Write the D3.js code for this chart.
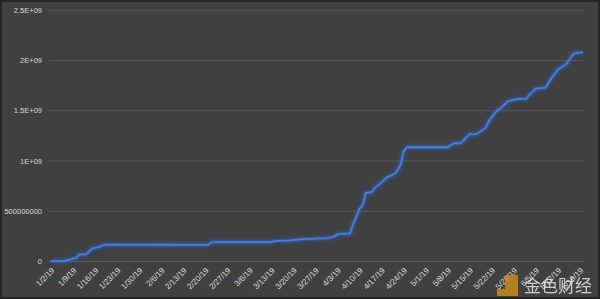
<!DOCTYPE html>
<html lang="en">
<head>
  <meta charset="UTF-8">
  <title>Chart</title>
  <style>
    body { margin: 0; background: #404040; }
    text { font-family: "Liberation Sans", Arial, sans-serif; }
  </style>
</head>
<body>
  <svg id="svg" width="600" height="299"></svg>

  <script src="https://d3js.org/d3.v7.min.js"></script>
  <script>
    // readings (date, cumulative value)
    const dates = ["1/2/19", "1/6/19", "1/10/19", "1/11/19", "1/13/19", "1/15/19", "1/17/19", "1/19/19",
      "2/21/19", "2/22/19", "3/13/19", "3/14/19", "3/19/19", "3/22/19", "3/27/19", "3/31/19",
      "4/2/19", "4/3/19", "4/5/19", "4/7/19", "4/8/19", "4/9/19", "4/10/19", "4/11/19", "4/12/19",
      "4/14/19", "4/15/19", "4/16/19", "4/18/19", "4/19/19", "4/21/19", "4/22/19", "4/23/19",
      "4/24/19", "4/25/19", "5/8/19", "5/10/19", "5/12/19", "5/13/19", "5/14/19", "5/15/19",
      "5/17/19", "5/20/19", "5/21/19", "5/23/19", "5/24/19", "5/25/19", "5/27/19", "5/30/19",
      "6/2/19", "6/3/19", "6/5/19", "6/8/19", "6/10/19", "6/12/19", "6/14/19", "6/15/19",
      "6/17/19", "6/20/19"]
    const values = [3e6, 3e6, 37e6, 70e6, 70e6, 127e6, 143e6, 167e6,
      165e6, 193e6, 193e6, 203e6, 210e6, 220e6, 227e6, 233e6,
      250e6, 270e6, 277e6, 277e6, 377e6, 443e6, 527e6, 560e6, 683e6,
      693e6, 737e6, 760e6, 817e6, 843e6, 870e6, 903e6, 960e6,
      1093e6, 1137e6, 1137e6, 1177e6, 1177e6, 1203e6, 1237e6, 1267e6,
      1267e6, 1327e6, 1393e6, 1477e6, 1510e6, 1527e6, 1593e6, 1617e6,
      1620e6, 1660e6, 1720e6, 1727e6, 1827e6, 1910e6, 1950e6, 1977e6,
      2070e6, 2083e6]

    const yTicks = [0, 5e8, 1e9, 1.5e9, 2e9, 2.5e9]
    const yTickLabels = ["0", "500000000", "1E+09", "1.5E+09", "2E+09", "2.5E+09"]

    const parse = d3.timeParse("%-m/%-d/%y")
    const fmt = d3.timeFormat("%-m/%-d/%y")
    const data = dates.map((d, i) => ({ date: parse(d), value: values[i] }))

    const svg = d3.select("#svg")

    svg.append("rect")
      .attr("x", 1).attr("y", 1)
      .attr("width", 598).attr("height", 297)
      .attr("fill", "#404040")
      .attr("stroke", "#262626")
      .attr("stroke-width", 2)

    const xScale = d3.scaleTime()
      .domain([parse("1/2/19"), parse("6/20/19")])
      .range([51, 583])

    const yScale = d3.scaleLinear()
      .domain([0, 2.5e9])
      .range([261.5, 10.3])

    // gridlines
    svg.append("g")
      .selectAll("line")
      .data(yTicks)
      .enter()
      .append("line")
      .attr("x1", 49)
      .attr("x2", 584)
      .attr("y1", d => yScale(d))
      .attr("y2", d => yScale(d))
      .attr("stroke", "#5a5a5a")
      .attr("stroke-width", 1)

    // y labels
    svg.append("g")
      .selectAll("text")
      .data(yTicks)
      .enter()
      .append("text")
      .text((d, i) => yTickLabels[i])
      .attr("x", 42)
      .attr("y", d => yScale(d))
      .attr("dy", "0.35em")
      .attr("text-anchor", "end")
      .attr("fill", "#d9d9d9")
      .style("font-size", "7.5px")

    // x labels, one per week
    const xTicks = d3.timeDay.range(parse("1/2/19"), parse("6/20/19"), 7)
    svg.append("g")
      .selectAll("text")
      .data(xTicks)
      .enter()
      .append("text")
      .text(d => fmt(d))
      .attr("transform", d => `translate(${xScale(d) + 2},${269}) rotate(-45)`)
      .attr("dy", "0.35em")
      .attr("text-anchor", "end")
      .attr("fill", "#d9d9d9")
      .style("font-size", "8px")

    // glow
    const defs = svg.append("defs")
    const filter = defs.append("filter")
      .attr("id", "glow")
      .attr("x", "-10%").attr("y", "-10%")
      .attr("width", "120%").attr("height", "120%")
    filter.append("feGaussianBlur")
      .attr("in", "SourceGraphic")
      .attr("stdDeviation", 2)
      .attr("result", "blur")
    const merge = filter.append("feMerge")
    merge.append("feMergeNode").attr("in", "blur")
    merge.append("feMergeNode").attr("in", "SourceGraphic")

    const line = d3.line()
      .x(d => xScale(d.date))
      .y(d => yScale(d.value))

    svg.append("path")
      .datum(data)
      .attr("d", line)
      .attr("fill", "none")
      .attr("stroke", "#2f5fb8")
      .attr("stroke-width", 4)
      .attr("stroke-opacity", 0.5)
      .attr("filter", "url(#glow)")

    svg.append("path")
      .datum(data)
      .attr("d", line)
      .attr("fill", "none")
      .attr("stroke", "#4a7bd6")
      .attr("stroke-width", 1.8)
      .attr("stroke-linejoin", "round")

    // watermark
    const wm = svg.append("g").attr("opacity", 0.85)
    wm.append("path")
      .attr("d", "M505,275 h13 v21 h-21 v-7 h8 z")
      .attr("fill", "#c98a1a")
    wm.append("text")
      .text("金色财经")
      .attr("x", 524)
      .attr("y", 292)
      .attr("fill", "#e6e6e6")
      .style("font-family", "'Noto Sans CJK SC', sans-serif")
      .style("font-size", "17px")
  </script>
</body>
</html>
